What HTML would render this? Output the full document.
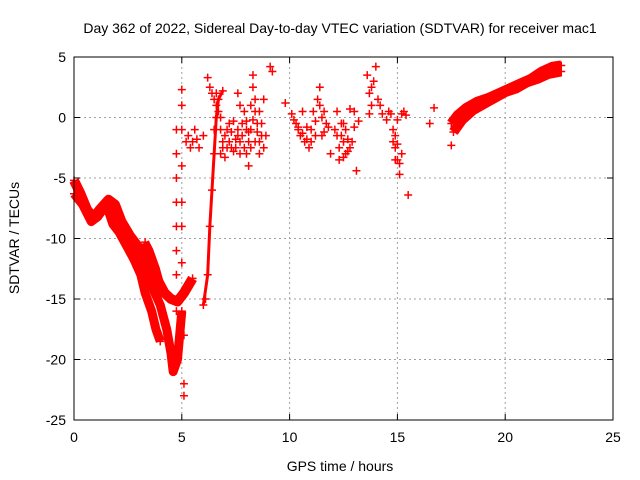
<!DOCTYPE html>
<html><head><meta charset="utf-8"><style>
body{margin:0;background:#fff}
svg{display:block;font-family:"Liberation Sans",sans-serif}
</style></head><body>
<svg id="chart" width="640" height="480">
<rect width="640" height="480" fill="#fff"/>
<g id="grid"></g>
<g id="marks"></g>
<g id="axes"></g>
<text x="340" y="33" font-size="14" text-anchor="middle">Day 362 of 2022, Sidereal Day-to-day VTEC variation (SDTVAR) for receiver mac1</text>
<text x="340" y="471" font-size="14" text-anchor="middle">GPS time / hours</text>
<text transform="translate(19,238) rotate(-90)" font-size="14" text-anchor="middle">SDTVAR / TECUs</text>
</svg>
<script>
const xTicks=[0,5,10,15,20,25];
const yTicks=[5,0,-5,-10,-15,-20,-25];
const bandA=[[0,-5.2],[0.3,-6.3],[0.6,-7.6],[0.9,-8.3],[1.2,-7.6],[1.6,-6.8],[1.9,-7.2],[2.2,-8.6],[2.6,-9.8],[2.9,-10.5],[3.3,-11.5],[3.6,-12.2],[3.9,-13.5],[4.2,-14.5],[4.5,-15],[4.8,-15.2],[5.1,-14.5],[5.5,-13.3]];
const bandB=[[0,-6.3],[0.4,-7.2],[0.8,-8.6],[1.1,-8.2],[1.5,-7.2],[1.8,-8.8],[2.1,-9.5],[2.5,-10.8],[2.8,-11.8],[3.1,-13],[3.3,-14.5],[3.6,-16],[3.8,-17.5],[4.0,-18.5]];
const bandC=[[2.6,-10],[3.0,-12],[3.4,-13],[3.7,-14.3],[4.0,-15.5],[4.3,-17.5],[4.5,-19.5],[4.6,-21],[4.8,-20],[5.0,-16]];
const bandD=[[3.3,-10.3],[3.5,-11],[3.8,-12.5],[4.0,-13.8],[4.3,-14.8]];
const bandE=[[6.0,-15.5],[6.2,-13],[6.3,-9],[6.4,-6],[6.5,-3],[6.6,0],[6.7,1.5],[6.9,2.2]];
const bandF=[[17.5,-0.5],[17.8,0.2],[18.2,0.8],[18.7,1.3],[19.2,1.6],[19.7,2],[20.2,2.4],[20.7,2.8],[21.2,3.2],[21.7,3.8],[22.2,4.2],[22.6,4.3]];
const bandG=[[17.6,-1.2],[18,-0.2],[18.5,0.6],[19,1.1],[19.5,1.6],[20,2.1],[20.5,2.4],[21,2.9],[21.5,3.2],[22,3.6],[22.6,3.8]];
const bandWidths=[10,9,9,8,3,10,10];
const scatter=[[4.75,-1],[4.75,-3],[4.75,-5],[4.75,-7],[4.75,-9],[4.75,-11],[4.75,-13],[4.75,-16],[4.8,-19],[5.0,2.3],[5.0,1],[5.0,-1],[5.0,-4],[5.0,-7],[5.0,-9],[5.0,-12],[5.1,-18],[5.1,-22],[5.1,-23],
[5.3,-1.5],[5.5,-2],[5.6,-1],[5.8,-2.5],[6.0,-1.5],[6.1,-15],[6.2,3.3],[6.3,2.5],[6.5,1.5],[6.6,2],[6.7,0.5],[6.8,-1],[6.9,-2],[7.0,-1.5],[7.2,-0.5],[7.3,-2.5],[7.5,-1.8],[7.6,-1],[7.7,-2],[7.8,-0.5],[7.9,0.5],[8.0,-3],[8.1,-2],[8.2,-1],[8.3,3.5],[8.4,1.5],[8.5,-0.5],[8.6,0.5],[8.7,-1.5],[8.8,1.5],[8.9,-1.5],[9.1,4.2],[9.2,3.8],[7.6,2],[7.7,1],[8.0,-1],[7.1,-2.5],[6.8,-3],[8.1,-4],[8.6,-3],
[6.9,-2.5],[7.0,-3.3],[7.1,-1],[7.2,-2],[7.3,-1.2],[7.4,-2.8],[7.4,-0.3],[7.5,-2.5],[7.6,-1.5],[7.7,-3],[7.8,-1.5],[7.9,-2.5],[8.0,-0.3],[8.1,-1.2],[8.2,-2.5],[8.3,-0.2],[8.4,-2],[8.5,-1.2],[8.6,-2],[8.7,-0.5],[8.8,-2.5],[8.3,2.5],[8.4,0.5],[8.2,1],[6.4,2],[6.6,1],[6.8,0],[6.5,-1],[5.2,-2],[5.7,-1.8],[5.4,-2.5],
[9.8,1.2],[10.1,0.3],[10.3,-0.5],[10.4,-1],[10.5,-1.5],[10.6,0.5],[10.7,-2],[10.8,-0.8],[10.9,-2.5],[11.0,-1],[11.2,-0.3],[11.3,1.5],[11.4,2.5],[11.5,0],[11.6,-1.2],[11.7,-0.5],[11.9,-3],[12.1,-1],[12.2,0.5],[12.3,-2.5],[12.4,-1.5],[12.5,-0.5],[12.6,-3],[12.7,-1.8],[12.8,0.7],[12.9,-2],[13.1,-4.4],[13.6,3.5],[13.7,2],[13.8,1],[13.9,3],[14.0,4.2],[14.2,1],[14.3,0.3],[14.5,-0.2],[14.7,0.3],[14.8,-1],[14.9,-2.5],[15.0,-3.5],[15.1,-4.7],[15.2,-3],[15.3,0.5],[15.5,-6.4],[16.5,-0.5],[16.7,0.8],[17.5,-2.3],
[10.2,-0.2],[10.4,-0.8],[10.6,-1.3],[10.8,-1.8],[11.0,-2],[11.1,0.5],[11.2,-1.5],[11.4,1],[11.5,-1.5],[11.6,0.5],[11.8,-0.8],[12.4,-0.5],[12.5,-2],[12.6,-1],[12.7,-2.8],[12.3,-3.5],[12.5,-3.3],[12.8,-2.5],[13.0,-0.8],[13.2,-0.3],[13.8,2.5],[13.7,0.3],[14.1,1.5],[14.8,-2],[14.9,-3.5],[15.0,-2.2],[14.9,-1.5],[15.1,-3.8],[15.0,-0.2],[15.2,0.3],[15.4,0.2],[14.6,0.5],[13.0,0.5],[12.2,-1.5]];
const X0=74,X1=613,Y0=420,Y1=57;
const xs=v=>X0+(v-0)/(25-0)*(X1-X0);
const ys=v=>Y0-(v+25)/30*(Y0-Y1);
const NS='http://www.w3.org/2000/svg';
const g=document.getElementById('grid'),m=document.getElementById('marks'),a=document.getElementById('axes');
function mk(t,at,p){const e=document.createElementNS(NS,t);for(const k in at)e.setAttribute(k,at[k]);p.appendChild(e);return e;}
xTicks.forEach(v=>{const x=xs(v);
 if(v>0&&v<25){const l=mk('line',{x1:x,x2:x,y1:Y1,y2:Y0,stroke:'#a0a0a0','stroke-dasharray':'2,3'},g);
 
 }
 mk('line',{x1:x,x2:x,y1:Y0,y2:Y0-6,stroke:'#000'},a);mk('line',{x1:x,x2:x,y1:Y1,y2:Y1+6,stroke:'#000'},a);
 const t=mk('text',{x:x,y:Y0+22,'font-size':14,'text-anchor':'middle'},a);t.textContent=v;
 
 });
yTicks.forEach(v=>{const y=ys(v);
 if(v>-25&&v<5){const l=mk('line',{x1:X0,x2:X1,y1:y,y2:y,stroke:'#a0a0a0','stroke-dasharray':'2,3'},g);
 
 }
 mk('line',{x1:X0,x2:X0+6,y1:y,y2:y,stroke:'#000'},a);mk('line',{x1:X1,x2:X1-6,y1:y,y2:y,stroke:'#000'},a);
 const t=mk('text',{x:X0-8,y:y+5,'font-size':14,'text-anchor':'end'},a);t.textContent=v;
 
 });
const fr=mk('rect',{x:X0,y:Y1,width:X1-X0,height:Y0-Y1,fill:'none',stroke:'#000'},a);


function plus(x,y){return `M${x-4},${y}h8M${x},${y-4}v8`;}
[bandA,bandB,bandC,bandD,bandE,bandF,bandG].forEach((b,i)=>{
 const p=mk('polyline',{points:b.map(d=>xs(d[0])+','+ys(d[1])).join(' '),fill:'none',stroke:'#f00','stroke-width':bandWidths[i],'stroke-linejoin':'round'},m);
 
 
 const q=mk('path',{d:b.map(d=>plus(xs(d[0]),ys(d[1]))).join(''),stroke:'#f00','stroke-width':1.5,fill:'none'},m);
 
 
});
const sp=mk('path',{d:scatter.map(d=>plus(xs(d[0]),ys(d[1]))).join(''),stroke:'#f00','stroke-width':1.5,fill:'none'},m);


</script>
</body></html>
